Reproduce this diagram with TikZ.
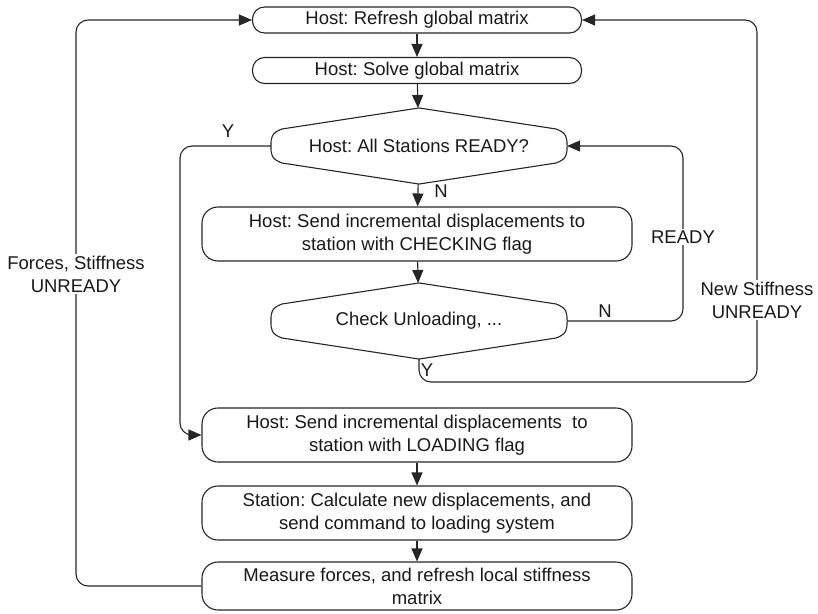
\documentclass[tikz,border=0pt]{standalone}
\usepackage{fontspec}
\setmainfont{Liberation Sans}
\usetikzlibrary{arrows.meta,calc}
\frenchspacing

\begin{document}
\begin{tikzpicture}[x=1pt,y=-1pt,
  font=\fontsize{18.5}{23}\selectfont,
  line width=1.1pt,
  arr/.style={-{Triangle[length=13pt,width=11pt]}},
  onebox/.style={draw, rounded corners=12pt, minimum width=329pt, minimum height=26pt, inner sep=0pt},
  twobox/.style={draw, rounded corners=16pt, minimum width=430pt, minimum height=54pt, inner sep=0pt, align=center},
  decision/.style={minimum width=295pt, minimum height=75pt, inner sep=0pt},
  lbl/.style={fill=white, inner sep=2pt, align=center},
  tag/.style={inner sep=0pt}
]
\useasboundingbox (0,0) rectangle (818,613);
\begin{scope}[every path/.style={draw=black!85}, every node/.style={text=black!90}]

% process boxes down the middle
\node[onebox] (refresh) at (417,20) {Host: Refresh global matrix};
\node[onebox] (solve) at (417,70.5) {Host: Solve global matrix};
\node[decision] (ready) at (419,146) {Host: All Stations READY?};
\node[twobox] (check) at (417,234) {Host: Send incremental displacements to\\station with CHECKING flag};
\node[decision] (unload) at (419,321) {Check Unloading, ...};
\node[twobox] (load) at (417,435) {Host: Send incremental displacements\ \ to\\station with LOADING flag};
\node[twobox] (station) at (417,513) {Station: Calculate new displacements, and\\send command to loading system};
\node[twobox, minimum height=48pt] (measure) at (417,586) {Measure forces, and refresh local stiffness\\matrix};

% outlines of the two decisions: pointed top and bottom, rounded sides
\foreach \d in {ready,unload}{
  \draw (\d.north) -- ($(\d.west)+(11,-17)$)
    .. controls ($(\d.west)+(0,-13)$) and ($(\d.west)+(0,-8)$) .. (\d.west)
    .. controls ($(\d.west)+(0,8)$) and ($(\d.west)+(0,13)$) .. ($(\d.west)+(11,17)$)
    -- (\d.south) -- ($(\d.east)+(-11,17)$)
    .. controls ($(\d.east)+(0,13)$) and ($(\d.east)+(0,8)$) .. (\d.east)
    .. controls ($(\d.east)+(0,-8)$) and ($(\d.east)+(0,-13)$) .. ($(\d.east)+(-11,-17)$)
    -- cycle;
}

% straight flow
\draw[arr] (refresh) -- (solve);
\draw[arr] (solve) -- (ready);
\draw[arr] (ready) -- (check);
\draw[arr] (check) -- (unload);
\draw[arr] (load) -- (station);
\draw[arr] (station) -- (measure);

% routing columns of the loops
\coordinate (colL) at (76,0);
\coordinate (colY) at (180,0);
\coordinate (colR) at (683,0);
\coordinate (colO) at (757,0);
\coordinate (rowY) at (0,382);

% Y: all stations ready -> loading
\draw[arr, rounded corners=12pt] (ready.west) -- (ready.west -| colY) -- (load.west -| colY) -- (load.west);
% N: unloading check -> back to the readiness test
\draw[arr, rounded corners=12pt] (unload.east) -- (unload.east -| colR) -- (ready.east -| colR) -- (ready.east);
% Y: unloading -> new stiffness, refresh
\draw[arr, rounded corners=12pt] (unload.south) -- (unload.south |- rowY) -- (colO |- rowY) -- (refresh.east -| colO) -- (refresh.east);
% measured forces -> refresh
\draw[arr, rounded corners=12pt] (measure.west) -- (measure.west -| colL) -- (refresh.west -| colL) -- (refresh.west);

% loop labels
\node[lbl] (lblL) at (76,274) {Forces, Stiffness\\UNREADY};
\node[lbl] (lblR) at (683,237) {READY};
\node[lbl] (lblO) at (757,300) {New Stiffness\\UNREADY};
\node[tag] (yA) at (228,131) {Y};
\node[tag] (nA) at (441,191) {N};
\node[tag] (nB) at (605,311) {N};
\node[tag] (yB) at (427,370) {Y};
\end{scope}
\end{tikzpicture}
\end{document}
